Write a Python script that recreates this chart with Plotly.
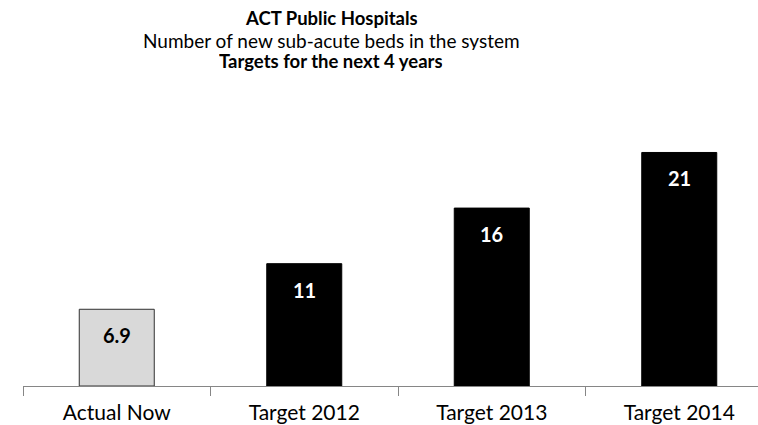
import plotly.graph_objects as go

categories = ["Actual Now", "Target 2012", "Target 2013", "Target 2014"]
values = [6.9, 11, 16, 21]
labels = ["6.9", "11", "16", "21"]
bar_colors = ["#d9d9d9", "#000000", "#000000", "#000000"]
label_colors = ["#000000", "#ffffff", "#ffffff", "#ffffff"]

FONT = "Lato, Calibri, Carlito, sans-serif"

fig = go.Figure()
fig.add_trace(go.Bar(
    x=categories, y=values, width=0.4,
    marker=dict(color=bar_colors, line=dict(color=["#303030", "#000000", "#000000", "#000000"], width=1)),
    hoverinfo="skip",
))

for c, v, t, col in zip(categories, values, labels, label_colors):
    fig.add_annotation(x=c, y=v, text="<b>%s</b>" % t, showarrow=False,
                       yanchor="top", yshift=-12,
                       font=dict(family=FONT, size=20, color=col))

titles = [("<b>ACT Public Hospitals</b>", 18, 18.5),
          ("Number of new sub-acute beds in the system", 40, 19),
          ("<b>Targets for the next 4 years</b>", 61, 18.5)]
for txt, ypix, sz in titles:
    fig.add_annotation(xref="paper", yref="paper", x=(331 - 23) / (758 - 23),
                       y=1 + (108 - ypix) / (386.5 - 108), text=txt, showarrow=False,
                       xanchor="center", yanchor="middle", height=20,
                       font=dict(family=FONT, size=sz, color="#000000"))

fig.update_layout(
    width=758, height=425,
    margin=dict(l=23, r=0, t=108, b=38.5),
    paper_bgcolor="white", plot_bgcolor="white",
    showlegend=False,
    xaxis=dict(type="category", range=[-0.5, 3.42], tickson="boundaries",
               ticks="outside", ticklen=9, tickcolor="#868686", tickwidth=1,
               showline=True, linecolor="#868686", linewidth=1, automargin=False,
               showgrid=False, zeroline=False, ticklabelstandoff=8,
               tickfont=dict(family=FONT, size=21, color="#000000")),
    yaxis=dict(range=[0, 25], visible=False, showgrid=False, zeroline=False),
)

fig.write_html("out.html", config={"displayModeBar": False},
               post_script="document.body.style.margin='0';document.body.style.overflow='hidden';")
